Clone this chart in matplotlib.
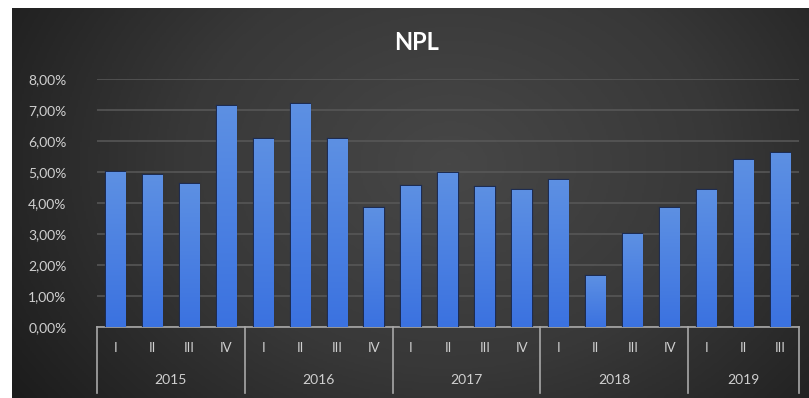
import numpy as np
import matplotlib
matplotlib.use("Agg")
import matplotlib.pyplot as plt
from matplotlib.colors import LinearSegmentedColormap

plt.rcParams['font.family'] = ['Lato', 'DejaVu Sans']

# NPL ratio per quarter, in percent
years = ["2015", "2016", "2017", "2018", "2019"]
quarters = ["I", "II", "III", "IV", "I", "II", "III", "IV", "I", "II", "III", "IV",
            "I", "II", "III", "IV", "I", "II", "III"]
quarters_per_year = [4, 4, 4, 4, 3]
npl = [5.00, 4.90, 4.62, 7.13, 6.06, 7.19, 6.05, 3.83, 4.55, 4.96, 4.53, 4.42,
       4.74, 1.65, 2.99, 3.85, 4.42, 5.39, 5.62]

W, H = 809, 398
fig = plt.figure(figsize=(W / 100, H / 100), dpi=100, facecolor="white")

# dark chart area with a soft radial shading
bg = fig.add_axes([12 / W, 0, 1 - 12 / W, 1 - 8 / H])
bg.set_axis_off()
yy, xx = np.mgrid[0:1:200j, 0:1:400j]
r = np.sqrt(((xx - 0.55) / 0.7) ** 2 + ((yy - 0.4) / 1.1) ** 2)
shade = np.clip(1 - r, 0, 1)
bg_cmap = LinearSegmentedColormap.from_list("bg", ["#1c1c1c", "#383838", "#474747"])
bg.imshow(shade, cmap=bg_cmap, aspect="auto", extent=[0, 1, 0, 1], origin="upper")
bg.set_xlim(0, 1)
bg.set_ylim(0, 1)

ax = fig.add_axes([97 / W, (H - 327) / H, 702 / W, 248 / H])
ax.patch.set_alpha(0)
x = np.arange(len(npl))
bars = ax.bar(x, npl, width=0.52, color="#4a80dc", edgecolor="#1d2c52",
              linewidth=1.6, zorder=3)

# vertical gradient inside each bar
bar_cmap = LinearSegmentedColormap.from_list("bar", ["#3b72e0", "#5d90e3"])
grad = np.linspace(0, 1, 100).reshape(-1, 1)
for b in bars:
    bx, bw, bh = b.get_x(), b.get_width(), b.get_height()
    im = ax.imshow(grad, cmap=bar_cmap, aspect="auto", origin="lower",
                   extent=[bx, bx + bw, 0, bh], zorder=3.5)
    im.set_clip_path(b)

ax.set_xlim(-0.5, len(npl) - 0.5)
ax.set_ylim(0, 8)
ax.set_yticks(np.arange(0, 9, 1))
ax.set_yticklabels([f"{v:.2f}%".replace(".", ",") for v in range(9)])
ax.tick_params(axis="y", length=0, pad=22, labelcolor="#d0d0d0", labelsize=10)
ax.set_xticks([])
ax.grid(axis="y", color="#595959", linewidth=1.1, zorder=1)
for s in ["top", "right", "left"]:
    ax.spines[s].set_visible(False)
ax.spines["bottom"].set_color("#a8a8a8")
ax.spines["bottom"].set_linewidth(1.2)
ax.set_aspect("auto")

# two-level category axis: quarters on top, years underneath
tr = ax.get_xaxis_transform()
for i, q in enumerate(quarters):
    ax.text(i, -0.085, q, transform=tr, ha="center", va="center",
            color="#d0d0d0", fontsize=9.5)
start = 0
edges = [-0.5]
for y, n in zip(years, quarters_per_year):
    mid = start + (n - 1) / 2
    ax.text(mid, -0.215, y, transform=tr, ha="center", va="center",
            color="#d0d0d0", fontsize=10)
    start += n
    edges.append(start - 0.5)
for e in edges:
    ax.plot([e, e], [0, -0.265], transform=tr, color="#a8a8a8",
            linewidth=1.2, clip_on=False)

fig.text(417 / W, 1 - 42 / H, "NPL", ha="center", va="center", color="white",
         fontsize=17, fontweight="bold")

fig.savefig("out.png", dpi=100, facecolor="white")
